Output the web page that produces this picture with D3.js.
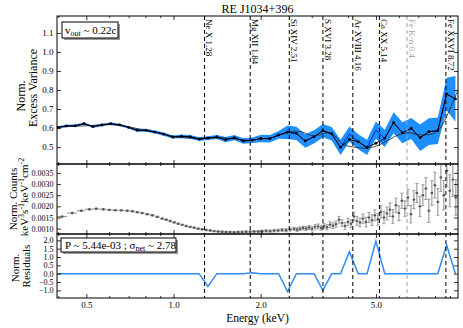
<!DOCTYPE html>
<html>
<head>
<meta charset="utf-8">
<script src="https://cdn.jsdelivr.net/npm/d3@7"></script>
<style>
  body { margin: 0; background: #fff; }
  svg { display: block; }
  svg text { font-family: "Liberation Serif", "Times New Roman", serif; }
</style>
</head>
<body>
<script>
// ---- data ----

// excess variance bins (keV)
var binE = [0.398, 0.427, 0.458, 0.491, 0.527, 0.566, 0.607, 0.651, 0.699, 0.749,
            0.804, 0.862, 0.925, 0.993, 1.065, 1.142, 1.226, 1.315, 1.411, 1.513,
            1.623, 1.742, 1.868, 2.004, 2.150, 2.307, 2.475, 2.655, 2.849, 3.056,
            3.279, 3.517, 3.773, 4.048, 4.343, 4.659, 4.998, 5.362, 5.753, 6.171,
            6.621, 7.103, 7.620, 8.175, 8.770, 9.406];
// black line with dots
var fvarModel = [0.604, 0.611, 0.612, 0.623, 0.607, 0.616, 0.623, 0.617, 0.604, 0.588,
                 0.588, 0.579, 0.568, 0.553, 0.556, 0.554, 0.542, 0.547, 0.553, 0.539,
                 0.550, 0.532, 0.536, 0.545, 0.544, 0.564, 0.578, 0.572, 0.532, 0.554,
                 0.586, 0.570, 0.498, 0.540, 0.528, 0.498, 0.520, 0.546, 0.628, 0.575,
                 0.598, 0.549, 0.581, 0.586, 0.779, 0.753];
// blue data line
var fvarData = [0.604, 0.611, 0.612, 0.623, 0.607, 0.616, 0.623, 0.617, 0.604, 0.588,
                0.588, 0.579, 0.568, 0.553, 0.556, 0.554, 0.542, 0.547, 0.553, 0.539,
                0.550, 0.532, 0.536, 0.545, 0.544, 0.564, 0.578, 0.572, 0.532, 0.554,
                0.586, 0.570, 0.498, 0.568, 0.528, 0.498, 0.589, 0.546, 0.628, 0.575,
                0.598, 0.549, 0.581, 0.586, 0.779, 0.753];
var fvarErr = [0.006, 0.006, 0.006, 0.006, 0.006, 0.006, 0.006, 0.006, 0.006, 0.008,
               0.008, 0.008, 0.008, 0.008, 0.010, 0.010, 0.010, 0.010, 0.010, 0.014,
               0.014, 0.014, 0.014, 0.020, 0.020, 0.020, 0.035, 0.035, 0.035, 0.035,
               0.035, 0.035, 0.040, 0.040, 0.040, 0.040, 0.045, 0.045, 0.055, 0.055,
               0.055, 0.070, 0.070, 0.070, 0.085, 0.120];
// smooth model curve
var curveE = [0.40, 0.5, 0.6, 0.7, 0.8, 0.9, 1.0, 1.2, 1.4, 1.6, 1.8, 2.0, 2.2, 2.4, 2.6, 2.8,
              3.0, 3.2, 3.4, 3.6, 3.8, 4.0, 4.3, 4.6, 5.0, 5.5, 6.0, 6.5, 7.0, 7.5, 8.0, 8.5, 9.0, 9.6];
var curveV = [0.605, 0.612, 0.618, 0.606, 0.588, 0.574, 0.556, 0.546, 0.549, 0.544, 0.536, 0.543,
              0.550, 0.570, 0.583, 0.578, 0.560, 0.565, 0.575, 0.560, 0.520, 0.505, 0.498, 0.494,
              0.505, 0.535, 0.565, 0.575, 0.565, 0.565, 0.575, 0.620, 0.700, 0.800];

// unfolded spectrum
var specE = [0.412, 0.447, 0.480, 0.512, 0.541, 0.572, 0.600, 0.629, 0.660, 0.692,
             0.721, 0.750, 0.780, 0.811, 0.845, 0.879, 0.914, 0.944, 0.974, 1.006,
             1.038, 1.072, 1.106, 1.142, 1.179, 1.217, 1.256, 1.297, 1.339, 1.381,
             1.426, 1.472, 1.519, 1.568, 1.619, 1.672, 1.725, 1.781, 1.839, 1.898,
             1.960, 2.023, 2.088, 2.155, 2.225, 2.296, 2.371, 2.447, 2.526, 2.608,
             2.671, 2.735, 2.801, 2.868, 2.937, 3.008, 3.080, 3.155, 3.231, 3.309,
             3.388, 3.470, 3.553, 3.639, 3.727, 3.816, 3.909, 4.003, 4.100, 4.198,
             4.299, 4.403, 4.509, 4.617, 4.729, 4.843, 4.959, 5.079, 5.201, 5.330,
             5.457, 5.587, 5.722, 5.859, 6.001, 6.145, 6.295, 6.447, 6.602, 6.761,
             6.923, 7.091, 7.261, 7.437, 7.615, 7.800, 7.988, 8.181, 8.377, 8.577,
             8.786, 8.998, 9.215, 9.436];
var specV = [0.00154, 0.00170, 0.00180, 0.00187, 0.00189, 0.00187, 0.00184, 0.00183, 0.00182, 0.00180,
             0.00178, 0.00174, 0.00170, 0.00165, 0.00160, 0.00153, 0.00145, 0.00140, 0.00134, 0.00128,
             0.00122, 0.00117, 0.00112, 0.00108, 0.00104, 0.00100, 0.00097, 0.00094, 0.00092, 0.00089,
             0.00087, 0.00086, 0.00085, 0.00085, 0.00084, 0.00085, 0.00085, 0.00086, 0.00086, 0.00087,
             0.00087, 0.00088, 0.00090, 0.00089, 0.00091, 0.00092, 0.00094, 0.00093, 0.00096, 0.00099,
             0.00096, 0.00100, 0.00103, 0.00101, 0.00105, 0.00100, 0.00108, 0.00110, 0.00104, 0.00112,
             0.00106, 0.00118, 0.00113, 0.00120, 0.00140, 0.00125, 0.00112, 0.00130, 0.00122, 0.00155,
             0.00135, 0.00128, 0.00145, 0.00130, 0.00150, 0.00138, 0.00160, 0.00142, 0.00175, 0.00150,
             0.00168, 0.00185, 0.00155, 0.00205, 0.00170, 0.00225, 0.00190, 0.00240, 0.00165, 0.00230,
             0.00260, 0.00200, 0.00250, 0.00280, 0.00180, 0.00260, 0.00295, 0.00220, 0.00330, 0.00250,
             0.00360, 0.00270, 0.00320, 0.00240];
var specErr = [0.00003, 0.00003, 0.00003, 0.00003, 0.00003, 0.00003, 0.00003, 0.00003, 0.00003, 0.00003,
               0.00003, 0.00003, 0.00003, 0.00003, 0.00003, 0.00003, 0.00003, 0.00003, 0.00003, 0.00003,
               0.00003, 0.00003, 0.00003, 0.00003, 0.00003, 0.00003, 0.00003, 0.00003, 0.00003, 0.00003,
               0.00003, 0.00003, 0.00003, 0.00003, 0.00003, 0.00004, 0.00004, 0.00004, 0.00004, 0.00004,
               0.00005, 0.00005, 0.00005, 0.00005, 0.00006, 0.00006, 0.00006, 0.00007, 0.00007, 0.00007,
               0.00008, 0.00008, 0.00008, 0.00009, 0.00009, 0.00010, 0.00010, 0.00011, 0.00011, 0.00012,
               0.00012, 0.00013, 0.00013, 0.00014, 0.00015, 0.00015, 0.00016, 0.00017, 0.00018, 0.00019,
               0.00020, 0.00020, 0.00021, 0.00022, 0.00023, 0.00024, 0.00025, 0.00026, 0.00027, 0.00028,
               0.00029, 0.00030, 0.00031, 0.00032, 0.00033, 0.00034, 0.00035, 0.00037, 0.00039, 0.00041,
               0.00043, 0.00045, 0.00047, 0.00049, 0.00052, 0.00055, 0.00058, 0.00060, 0.00063, 0.00066,
               0.00070, 0.00072, 0.00075, 0.00080];

// residuals per excess variance bin
var residuals = [0, 0, 0, 0, 0, 0, 0, 0, 0, 0, 0, 0, 0, 0, 0, 0, 0, -0.77, 0, 0,
                 0, 0, 0.05, 0, 0, 0, -1.08, 0, 0, 0, -1.0, 0, 0, 1.31, 0, 0, 1.95, 0, 0, 0,
                 0, 0, 0, 0, 1.72, 0];

// emission lines
var lineNames = ["Ne X", "Mg XII", "Si XIV", "S XVI", "Ar XVIII", "Ca XX", "Fe K-\u03b1", "Fe XXVI"];
var lineE = [1.28, 1.84, 2.51, 3.28, 4.16, 5.14, 6.4, 8.72];
var lineLabels = ["1.28", "1.84", "2.51", "3.28", "4.16", "5.14", "6.4", "8.72"];

// ticks
var xMajor = [0.5, 1, 2, 5];
var xMinor = [0.4, 0.6, 0.7, 0.8, 0.9, 3, 4, 6, 7, 8, 9];
var topTicks = [0.5, 0.6, 0.7, 0.8, 0.9, 1.0, 1.1];
var midTicks = [0.0010, 0.0015, 0.0020, 0.0025, 0.0030, 0.0035];
var resTicks = [-1.0, -0.5, 0.0, 0.5, 1.0, 1.5, 2.0];

// ---- layout ----
var W = 463, H = 328;
var L = 57, R = 458;
var top0 = 16, top1 = 164, mid1 = 234, res1 = 298;
var FONT = "Liberation Serif, Times New Roman, serif";

var svg = d3.select("body").append("svg")
    .attr("width", W)
    .attr("height", H)
    .attr("font-family", FONT);

var x = d3.scaleLog().domain([0.396, 9.6]).range([L, R]);
var yTop = d3.scaleLinear().domain([0.411, 1.189]).range([top1, top0]);
var yMid = d3.scaleLinear().domain([0.00076, 0.0039]).range([mid1, top1]);
var yRes = d3.scaleLinear().domain([-1.46, 2.38]).range([res1, mid1]);

// clip for each panel
var defs = svg.append("defs");
function clip(id, y0, y1) {
  defs.append("clipPath").attr("id", id)
    .append("rect").attr("x", L).attr("y", y0).attr("width", R - L).attr("height", y1 - y0);
}
clip("cTop", top0, top1);
clip("cMid", top1, mid1);
clip("cRes", mid1, res1);

// ---- top panel ----
var gTop = svg.append("g").attr("clip-path", "url(#cTop)");

var band = d3.area()
    .x(function(d, i) { return x(binE[i]); })
    .y0(function(d, i) { return yTop(d - fvarErr[i]); })
    .y1(function(d, i) { return yTop(d + fvarErr[i]); });
gTop.append("path").datum(fvarData)
    .attr("d", band)
    .attr("fill", "#1e8fff");

var binLine = d3.line()
    .x(function(d, i) { return x(binE[i]); })
    .y(function(d) { return yTop(d); });

gTop.append("path").datum(fvarData)
    .attr("d", binLine)
    .attr("fill", "none").attr("stroke", "#0a1fd0").attr("stroke-width", 1);

var smooth = d3.line()
    .curve(d3.curveCatmullRom)
    .x(function(d, i) { return x(curveE[i]); })
    .y(function(d) { return yTop(d); });
gTop.append("path").datum(curveV)
    .attr("d", smooth)
    .attr("fill", "none").attr("stroke", "#222").attr("stroke-width", 0.8);

gTop.append("path").datum(fvarModel)
    .attr("d", binLine)
    .attr("fill", "none").attr("stroke", "#000").attr("stroke-width", 1);

gTop.selectAll("circle.pt").data(fvarModel).enter().append("circle")
    .attr("class", "pt")
    .attr("cx", function(d, i) { return x(binE[i]); })
    .attr("cy", function(d) { return yTop(d); })
    .attr("r", 1.4)
    .attr("fill", "#000");

// ---- middle panel: unfolded spectrum ----
var gMid = svg.append("g").attr("clip-path", "url(#cMid)");
var lgE = specE.map(function(e) { return Math.log(e); });
var pts = gMid.selectAll("g.sp").data(specV).enter().append("g").attr("class", "sp");

pts.append("line") // x error
    .attr("x1", function(d, i) {
      var lo = i > 0 ? Math.exp((lgE[i] + lgE[i - 1]) / 2) : Math.exp(lgE[0] - (lgE[1] - lgE[0]) / 2);
      return x(lo);
    })
    .attr("x2", function(d, i) {
      var n = lgE.length;
      var hi = i < n - 1 ? Math.exp((lgE[i] + lgE[i + 1]) / 2) : Math.exp(lgE[i] + (lgE[i] - lgE[i - 1]) / 2);
      return x(hi);
    })
    .attr("y1", function(d) { return yMid(d); })
    .attr("y2", function(d) { return yMid(d); })
    .attr("stroke", "#8a8a8a").attr("stroke-width", 1);

pts.append("line") // y error
    .attr("x1", function(d, i) { return x(specE[i]); })
    .attr("x2", function(d, i) { return x(specE[i]); })
    .attr("y1", function(d, i) { return yMid(d - specErr[i]); })
    .attr("y2", function(d, i) { return yMid(d + specErr[i]); })
    .attr("stroke", "#8a8a8a").attr("stroke-width", 1);

pts.each(function(d, i) {
  var g = d3.select(this);
  [d - specErr[i], d + specErr[i]].forEach(function(v) {
    g.append("line")
      .attr("x1", x(specE[i]) - 1.6).attr("x2", x(specE[i]) + 1.6)
      .attr("y1", yMid(v)).attr("y2", yMid(v))
      .attr("stroke", "#8a8a8a").attr("stroke-width", 0.8);
  });
});

pts.append("circle")
    .attr("cx", function(d, i) { return x(specE[i]); })
    .attr("cy", function(d) { return yMid(d); })
    .attr("r", 1.2)
    .attr("fill", "#5a5a5a");

// ---- residual panel ----
var gRes = svg.append("g").attr("clip-path", "url(#cRes)");
gRes.append("path").datum(residuals)
    .attr("d", d3.line()
      .x(function(d, i) { return x(binE[i]); })
      .y(function(d) { return yRes(d); }))
    .attr("fill", "none").attr("stroke", "#2f8cf5").attr("stroke-width", 1.5);

// ---- line markers ----
var gLines = svg.append("g");
lineE.forEach(function(e, i) {
  var col = lineNames[i].indexOf("K-") >= 0 ? "#a0a0a0" : "#000";
  gLines.append("line")
    .attr("x1", x(e)).attr("x2", x(e))
    .attr("y1", top0).attr("y2", res1)
    .attr("stroke", col).attr("stroke-width", 1)
    .attr("stroke-dasharray", "4,3");
  gLines.append("text")
    .attr("transform", "translate(" + (x(e) + 1.8) + "," + (top0 + 3) + ") rotate(90)")
    .attr("font-size", 9)
    .attr("font-family", FONT)
    .attr("fill", col)
    .text(lineNames[i] + "  " + lineLabels[i]);
});

// ---- axes ----
function styleAxis(g) {
  g.attr("font-family", FONT);
  g.select(".domain").remove();
  g.selectAll(".tick line").attr("stroke", "#000").attr("stroke-width", 0.8);
  g.selectAll("text").attr("font-family", FONT).attr("fill", "#000");
}

function xTicks(yPos, dir, labels) {
  var mk = dir === "bottom" ? d3.axisBottom : d3.axisTop;
  var g1 = svg.append("g").attr("transform", "translate(0," + yPos + ")")
      .call(mk(x).tickValues(xMajor).tickSize(-4).tickPadding(labels ? 4 : 0)
        .tickFormat(labels ? d3.format(".1f") : ""));
  styleAxis(g1);
  g1.selectAll("text").attr("font-size", 9);
  var g2 = svg.append("g").attr("transform", "translate(0," + yPos + ")")
      .call(mk(x).tickValues(xMinor).tickSize(-2).tickFormat(""));
  styleAxis(g2);
}

function yTicks(scale, ticks, fmt, fs) {
  var g1 = svg.append("g").attr("transform", "translate(" + L + ",0)")
      .call(d3.axisLeft(scale).tickValues(ticks).tickSize(-4).tickPadding(3.5).tickFormat(fmt));
  styleAxis(g1);
  g1.selectAll("text").attr("font-size", fs);
  var g2 = svg.append("g").attr("transform", "translate(" + R + ",0)")
      .call(d3.axisRight(scale).tickValues(ticks).tickSize(-4).tickFormat(""));
  styleAxis(g2);
}

xTicks(top0, "top", false);
xTicks(top1, "bottom", false);
xTicks(top1, "top", false);
xTicks(mid1, "bottom", false);
xTicks(mid1, "top", false);
xTicks(res1, "bottom", true);

yTicks(yTop, topTicks, d3.format(".1f"), 9);
yTicks(yMid, midTicks, d3.format(".4f"), 8);
yTicks(yRes, resTicks, function(d) { return d3.format(".1f")(d).replace("-", "\u2212"); }, 8);

// panel frames
[[top0, top1], [top1, mid1], [mid1, res1]].forEach(function(p) {
  svg.append("rect")
    .attr("x", L).attr("y", p[0])
    .attr("width", R - L).attr("height", p[1] - p[0])
    .attr("fill", "none").attr("stroke", "#000").attr("stroke-width", 1);
});

// ---- text ----
svg.append("text")
    .attr("x", (L + R) / 2).attr("y", 13)
    .attr("text-anchor", "middle").attr("font-size", 12)
    .text("RE J1034+396");

svg.append("text")
    .attr("x", (L + R) / 2).attr("y", 322)
    .attr("text-anchor", "middle").attr("font-size", 11.5)
    .text("Energy (keV)");

function yLabel(xPos, yPos, size) {
  return svg.append("text")
    .attr("transform", "translate(" + xPos + "," + yPos + ") rotate(-90)")
    .attr("text-anchor", "middle").attr("font-size", size);
}
yLabel(25, 96, 12).text("Norm.");
yLabel(37, 88, 12).text("Excess Variance");

yLabel(17, 199, 11).text("Norm. Counts");
var kl = yLabel(28, 197, 11);
kl.append("tspan").text("keV");
kl.append("tspan").attr("dy", -4).attr("font-size", 8).text("3");
kl.append("tspan").attr("dy", 4).text("s");
kl.append("tspan").attr("dy", -4).attr("font-size", 8).text("-1");
kl.append("tspan").attr("dy", 4).text("keV");
kl.append("tspan").attr("dy", -4).attr("font-size", 8).text("-1");
kl.append("tspan").attr("dy", 4).text("cm");
kl.append("tspan").attr("dy", -4).attr("font-size", 8).text("-2");

yLabel(19, 268, 11).text("Norm.");
yLabel(30, 266, 11).text("Residuals");

// legend boxes with shadow
function box(x0, y0, w, h) {
  svg.append("rect").attr("x", x0 + 2).attr("y", y0 + 2).attr("width", w).attr("height", h)
    .attr("fill", "#9a9a9a");
  svg.append("rect").attr("x", x0).attr("y", y0).attr("width", w).attr("height", h)
    .attr("fill", "#fff").attr("stroke", "#000").attr("stroke-width", 1);
}

box(62, 22, 56, 16);
var t1 = svg.append("text").attr("x", 65).attr("y", 34).attr("font-size", 11);
t1.append("tspan").text("v");
t1.append("tspan").attr("dy", 2).attr("font-size", 8).attr("font-style", "italic").text("out");
t1.append("tspan").attr("dy", -2).text(" ~ 0.22c");

box(61, 238, 115, 14);
var t2 = svg.append("text").attr("x", 65).attr("y", 249).attr("font-size", 11);
t2.append("tspan").text("P ~ 5.44e-03 ; \u03c3");
t2.append("tspan").attr("dy", 2).attr("font-size", 8).text("net");
t2.append("tspan").attr("dy", -2).text(" ~ 2.78");
</script>
</body>
</html>
